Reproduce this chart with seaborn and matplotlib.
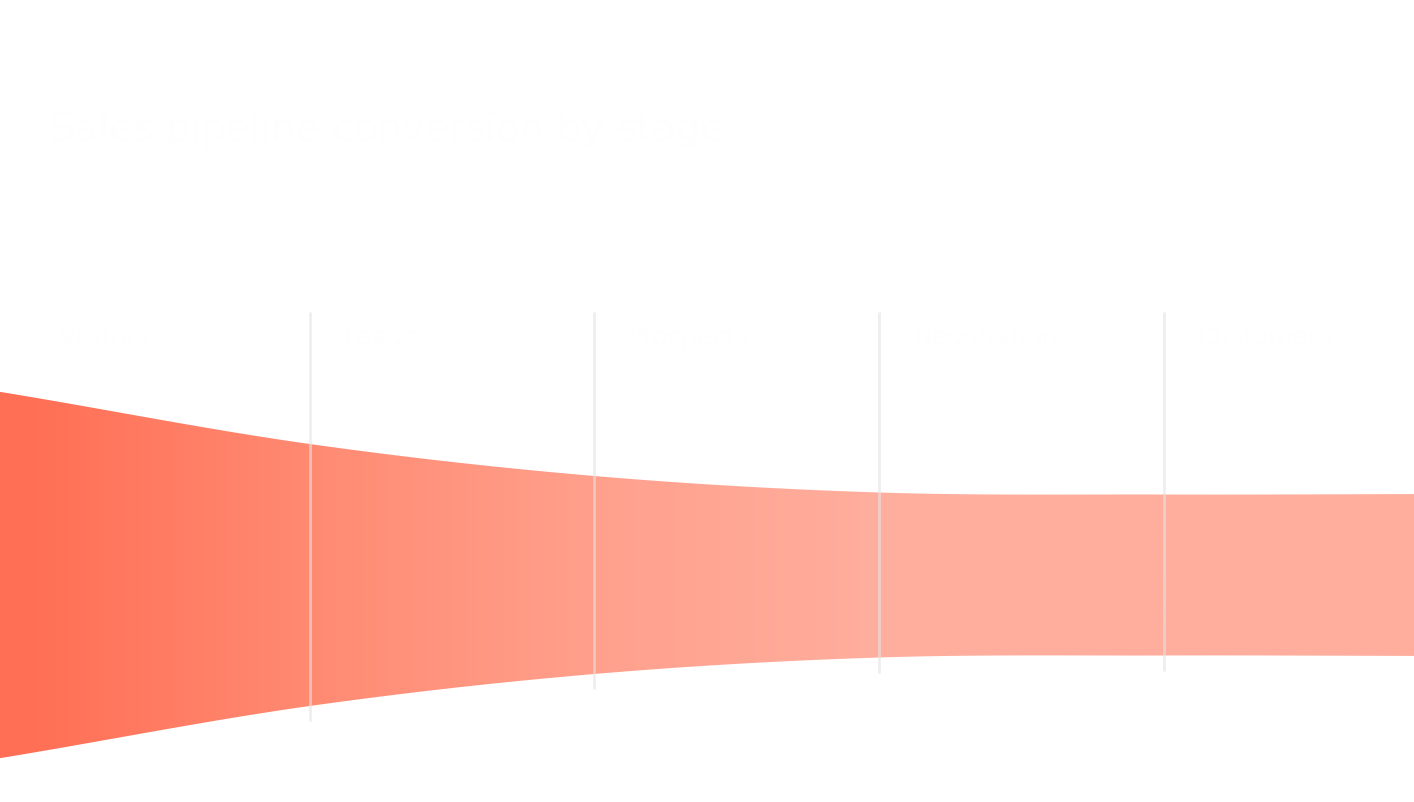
import numpy as np
import pandas as pd
import matplotlib
matplotlib.use("Agg")
import matplotlib.pyplot as plt
import seaborn as sns
from matplotlib.colors import to_rgb

# funnel data: width of the funnel at each stage boundary
stages = ["Visitors", "Leads", "Prospects", "Negotiation", "Customers"]
boundary_values = [358, 262, 198, 165, 161, 162]
stage_colors = ["#FF6F55", "#FF8A72", "#FFA08C", "#FFAE9E", "#FFAE9E", "#FFAE9E"]
title = "Sales pipeline conversion by stage"

sns.set_theme(style="white")
plt.rcParams['font.family'] = ['DejaVu Sans']

df = pd.DataFrame({"pos": np.arange(len(boundary_values)), "value": boundary_values})


def smooth(x, y, xs):
    # cardinal cubic curve through the boundary values (shape smoothing only)
    x = np.asarray(x, float)
    y = np.asarray(y, float)
    m = np.gradient(y, x)
    out = np.empty_like(xs)
    for j, xv in enumerate(xs):
        i = int(np.clip(np.searchsorted(x, xv) - 1, 0, len(x) - 2))
        h = x[i + 1] - x[i]
        t = (xv - x[i]) / h
        h00 = 2 * t**3 - 3 * t**2 + 1
        h10 = t**3 - 2 * t**2 + t
        h01 = -2 * t**3 + 3 * t**2
        h11 = t**3 - t**2
        out[j] = h00 * y[i] + h10 * h * m[i] + h01 * y[i + 1] + h11 * h * m[i + 1]
    return out


fig = plt.figure(figsize=(14.14, 8.02), dpi=100)
ax = fig.add_axes([0, 0, 1, 1])
x0, x1 = -25 / 284.7, (1414 - 25) / 284.7
ax.set_xlim(x0, x1)
ax.set_ylim(802, 0)
ax.axis("off")

xs = np.linspace(x0, x1, 600)
widths = smooth(df["pos"], df["value"], xs)
center = 575
top = center - widths / 2
bot = center + widths / 2

poly = ax.fill_between(xs, top, bot, color="none", lw=0)

# horizontal gradient through the stage colours
cols = np.array([to_rgb(c) for c in stage_colors])
gx = np.linspace(x0, x1, 400)
grad = np.stack([np.interp(gx, df["pos"], cols[:, k]) for k in range(3)], axis=-1)
img = ax.imshow(grad[np.newaxis, :, :], extent=[x0, x1, center + 200, center - 200],
                aspect="auto", zorder=2, interpolation="bilinear")
img.set_clip_path(poly.get_paths()[0], transform=ax.transData)

# stage dividers
wb = smooth(df["pos"], df["value"], np.arange(1, len(stages)).astype(float))
for i, w in zip(range(1, len(stages)), wb):
    ax.plot([i, i], [312, center + w / 2 + 15], color="#e4e4e4", lw=2, alpha=0.6,
            zorder=3, solid_capstyle="butt")

# texts (white on white as in the reference)
ax.text(50 / 284.7 + x0, 130, title, color="#fefefe", fontsize=28, va="center", ha="left")
for i, s in enumerate(stages):
    ax.text(i + 0.12, 338, s, color="#fefefe", fontsize=18, va="center", ha="left")

fig.savefig("out.png", dpi=100)
